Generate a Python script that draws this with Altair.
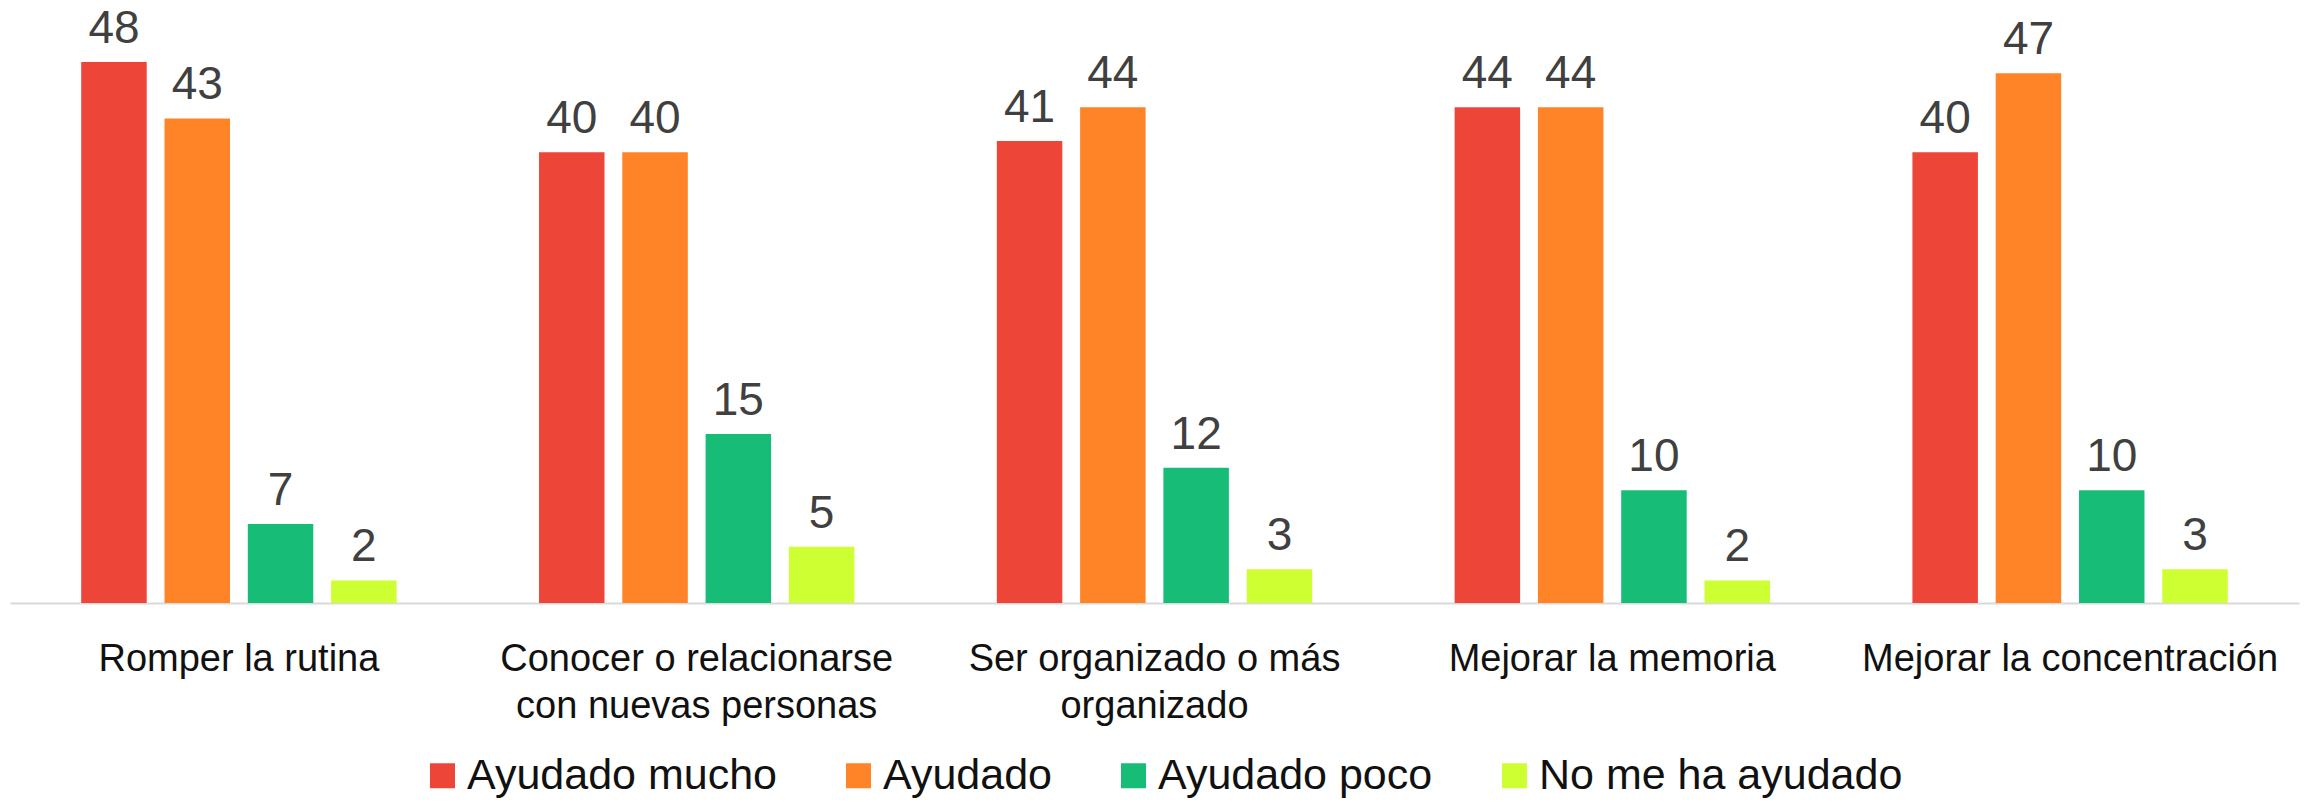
import altair as alt
import pandas as pd

categories = [
    "Romper la rutina",
    "Conocer o relacionarse con nuevas personas",
    "Ser organizado o más organizado",
    "Mejorar la memoria",
    "Mejorar la concentración",
]
label_lines = {
    "Conocer o relacionarse con nuevas personas": ["Conocer o relacionarse", "con nuevas personas"],
    "Ser organizado o más organizado": ["Ser organizado o más", "organizado"],
}
series = ["Ayudado mucho", "Ayudado", "Ayudado poco", "No me ha ayudado"]
colors = ["#EE4539", "#FF8327", "#17BD77", "#CDFF33"]

mucho = [48, 40, 41, 44, 40]
ayudado = [43, 40, 44, 44, 47]
poco = [7, 15, 12, 10, 10]
no_ayudado = [2, 5, 3, 2, 3]

values = [mucho, ayudado, poco, no_ayudado]
rows = []
for s, vals in zip(series, values):
    for c, v in zip(categories, vals):
        rows.append({"categoria": c, "serie": s, "valor": v})
df = pd.DataFrame(rows)

FONT = "Liberation Sans, Arial, Helvetica, sans-serif"

expr_parts = []
for k, v in label_lines.items():
    expr_parts.append(f"datum.value == '{k}' ? ['{v[0]}', '{v[1]}']")
label_expr = " : ".join(expr_parts) + " : datum.value"

x_enc = alt.X(
    "categoria:N",
    sort=categories,
    scale=alt.Scale(paddingInner=0, paddingOuter=0),
    axis=alt.Axis(
        title=None,
        labelAngle=0,
        ticks=False,
        tickSize=0,
        domain=True,
        domainColor="#D9D9D9",
        domainWidth=2,
        labelFont=FONT,
        labelFontSize=38,
        labelColor="#111111",
        labelPadding=67,
        labelBaseline="alphabetic",
        labelLineHeight=47,
        labelLimit=0,
        labelExpr=label_expr,
        grid=False,
    ),
)
xoff = alt.XOffset(
    "serie:N",
    sort=series,
    scale=alt.Scale(paddingInner=0.2137, paddingOuter=0.855),
)
y_enc = alt.Y("valor:Q", scale=alt.Scale(domain=[0, 52], nice=False, zero=True), axis=None)

base = alt.Chart(df)

bars = base.mark_bar().encode(
    x=x_enc,
    xOffset=xoff,
    y=y_enc,
    color=alt.Color(
        "serie:N",
        sort=series,
        scale=alt.Scale(domain=series, range=colors),
        legend=alt.Legend(
            title=None,
            orient="none",
            direction="horizontal",
            legendX=411,
            legendY=737,
            symbolType="square",
            symbolSize=625,
            symbolStrokeWidth=0,
            labelFont=FONT,
            labelFontSize=43,
            labelColor="#111111",
            labelOffset=3,
            columnPadding=60,
            padding=0,
            labelLimit=0,
        ),
    ),
)

labels = base.mark_text(
    font=FONT, fontSize=46, color="#404040", baseline="alphabetic", dy=-19
).encode(
    x=alt.X("categoria:N", sort=categories),
    xOffset=alt.XOffset("serie:N", sort=series),
    y=alt.Y("valor:Q"),
    text=alt.Text("valor:Q"),
)

chart = (
    alt.layer(bars, labels)
    .properties(
        width=2289,
        height=586,
        padding={"left": 2, "top": 9, "right": 5, "bottom": 196},
        autosize=alt.AutoSizeParams(type="none"),
    )
    .configure_view(stroke=None)
)

chart.save("out.html", embed_options={"renderer": "svg", "actions": False})
